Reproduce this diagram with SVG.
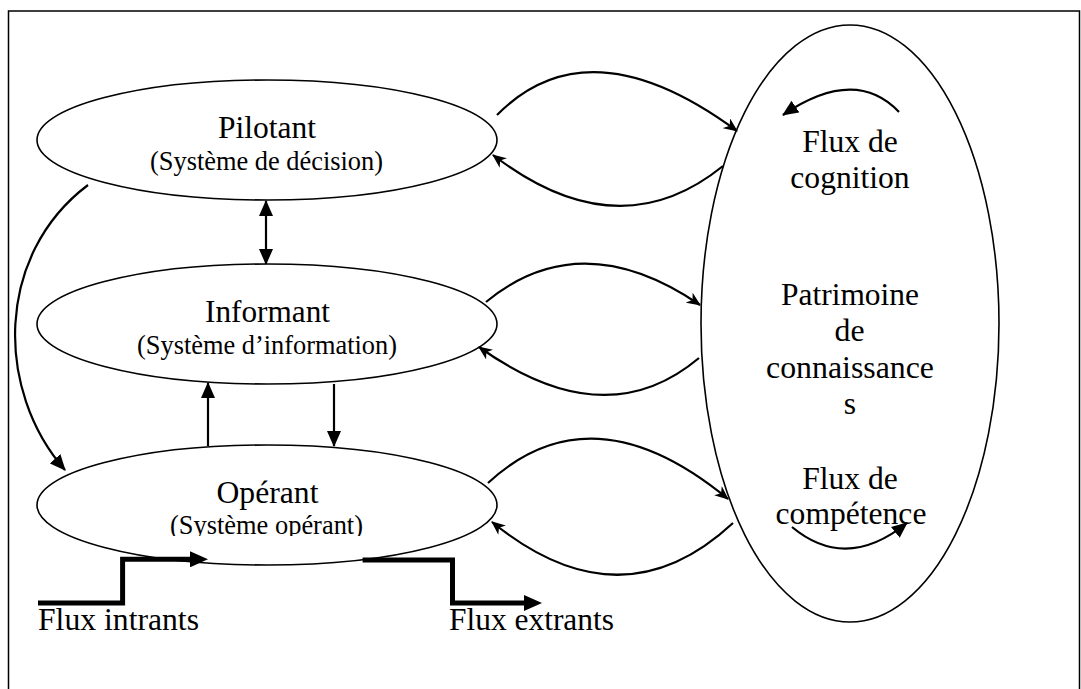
<svg xmlns="http://www.w3.org/2000/svg" width="1081" height="689" viewBox="0 0 1081 689">
<style>
  text { font-family: "Liberation Serif", "Times New Roman", Times, serif; fill: #000; }
  .t { font-size: 31.6px; text-anchor: middle; }
  .s { font-size: 26.4px; text-anchor: middle; }
  .l { font-size: 31.6px; }
  .node ellipse { fill: #fff; stroke: #000; stroke-width: 1.6; }
  .c { fill: none; stroke: #000; stroke-width: 2.2; }
  .flux { fill: none; stroke: #000; stroke-width: 5; stroke-linejoin: miter; }
  .frame { fill: none; stroke: #000; stroke-width: 1.5; }
</style>
<defs>
  <marker id="tri" viewBox="0 0 16 14" refX="15" refY="7" markerWidth="16" markerHeight="14" markerUnits="userSpaceOnUse" orient="auto-start-reverse">
    <path d="M0,0 L16,7 L0,14 z" fill="#000"/>
  </marker>
  <marker id="barb" viewBox="0 0 14 12" refX="13" refY="6" markerWidth="14" markerHeight="12" markerUnits="userSpaceOnUse" orient="auto">
    <path d="M0,0 L14,6 L0,12 L4,6 z" fill="#000"/>
  </marker>
  <marker id="big" viewBox="0 0 18 16" refX="8" refY="8" markerWidth="18" markerHeight="16" markerUnits="userSpaceOnUse" orient="auto">
    <path d="M0,0 L18,8 L0,16 z" fill="#000"/>
  </marker>
  <clipPath id="clipOp">
    <rect x="0" y="0" width="1081" height="536"/>
  </clipPath>
</defs>
<rect x="0" y="0" width="1081" height="689" fill="#fff"/>
<path class="frame" d="M8.5,689 V11 H1079.5 V689"/>

<g id="pilotant" class="node">
  <ellipse cx="267" cy="140" rx="230" ry="60"/>
  <text class="t" x="267" y="138" textLength="98" lengthAdjust="spacingAndGlyphs">Pilotant</text>
  <text class="s" x="266.5" y="170" textLength="233" lengthAdjust="spacingAndGlyphs">(Système de décision)</text>
</g>
<g id="informant" class="node">
  <ellipse cx="267" cy="324" rx="230" ry="60"/>
  <text class="t" x="267.5" y="322" textLength="125" lengthAdjust="spacingAndGlyphs">Informant</text>
  <text class="s" x="267" y="354" textLength="260" lengthAdjust="spacingAndGlyphs">(Système d’information)</text>
</g>
<g id="operant" class="node">
  <ellipse cx="267" cy="505" rx="230" ry="60"/>
  <text class="t" x="267.5" y="503" textLength="102" lengthAdjust="spacingAndGlyphs">Opérant</text>
  <text class="s" x="266.5" y="534" textLength="193" lengthAdjust="spacingAndGlyphs" clip-path="url(#clipOp)">(Système opérant)</text>
</g>
<g id="patrimoine" class="node">
  <ellipse cx="850" cy="323.5" rx="149" ry="298.5"/>
  <text class="t"><tspan x="850" y="152">Flux de</tspan><tspan x="850" y="188">cognition</tspan></text>
  <text class="t" x="850" y="305" textLength="138" lengthAdjust="spacingAndGlyphs">Patrimoine</text>
  <text class="t" x="849.5" y="341" textLength="30" lengthAdjust="spacingAndGlyphs">de</text>
  <text class="t" x="850" y="378" textLength="168" lengthAdjust="spacingAndGlyphs">connaissance</text>
  <text class="t" x="850" y="414">s</text>
  <text class="t"><tspan x="850" y="489">Flux de</tspan><tspan x="851" y="524">compétence</tspan></text>
</g>

<g id="connectors">
  <path class="c" d="M266,201 V264" marker-start="url(#tri)" marker-end="url(#tri)"/>
  <path class="c" d="M208,446 V383" marker-end="url(#tri)"/>
  <path class="c" d="M334,384 V446" marker-end="url(#tri)"/>
  <path class="c" d="M88,185 C-5,255 -5,390 65,470" marker-end="url(#tri)"/>
  <path class="c" d="M497,115 Q589,22 737,131" marker-end="url(#barb)"/>
  <path class="c" d="M723,166 Q618,251 493,155" marker-end="url(#barb)"/>
  <path class="c" d="M486,302 Q581,224 700,305" marker-end="url(#barb)"/>
  <path class="c" d="M699,358 Q605,437 479,347" marker-end="url(#barb)"/>
  <path class="c" d="M488,483 Q592,387 728,499" marker-end="url(#barb)"/>
  <path class="c" d="M733,523 Q621,627 492,522" marker-end="url(#barb)"/>
  <path class="c" d="M899,112 Q855,66 783,115" marker-end="url(#tri)"/>
  <path class="c" d="M792,527 Q846,572 907,523" marker-end="url(#tri)"/>
  <path class="flux" d="M38,603 H122.6 V559.3 H198" marker-end="url(#big)"/>
  <path class="flux" d="M362.6,560 H452.5 V603 H532" marker-end="url(#big)"/>
</g>

<text class="l" x="38" y="630" textLength="161" lengthAdjust="spacingAndGlyphs">Flux intrants</text>
<text class="l" x="449" y="630" textLength="165" lengthAdjust="spacingAndGlyphs">Flux extrants</text>
</svg>
